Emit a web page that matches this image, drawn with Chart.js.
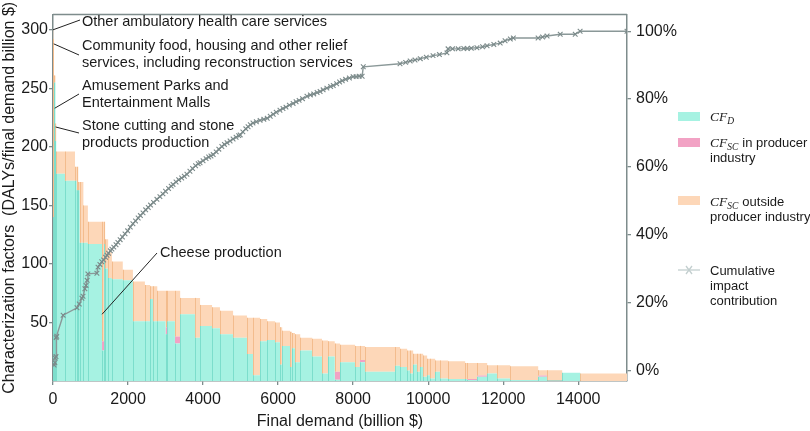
<!DOCTYPE html>
<html><head><meta charset="utf-8">
<script src="https://cdn.jsdelivr.net/npm/chart.js@4/dist/chart.umd.min.js"></script>
<style>html,body{margin:0;padding:0;background:#fff;}canvas{display:block}</style>
</head><body>
<canvas id="c" width="810" height="431"></canvas>
<script>
// ---- data ----
// final demand of each sector (billion $), sectors sorted by total characterization factor
const widths = [8,18,40,20,234,267,43,44,36,100,
 120,377,63,20,80,100,290,270,320,140,
 80,110,220,50,200,140,400,130,320,210,
 350,370,160,190,190,210,130,60,210,50,
 80,140,320,260,160,180,140,400,130,140,
 800,130,190,80,80,107,80,80,106,80,
 134,133,213,454,53,267,266,267,347,746,
 240,400,480,1247];
const cfD = [120,140,255,205,177,171,171,163,163,118,
 118,117,26,117,96,88,87,86,51,51,
 70,51,51,40,51,32,57,37,47,45,
 40,37,23,5,34,35,33,14,30,12,
 28,16,26,21,6.5,21,1,16,12,16,
 8,13,12,9,6.5,14,8,12,3.6,5,
 2.2,7.8,2.2,1.7,1.7,0.8,3.6,6.4,2.2,0.8,
 3.6,0.5,7,0];
const cfSCin = [0,0,0,0,0,0,0,0,0,0,
 0,0,8,0,0,0,0,0,0,0,
 0,0,0,6,0,6,0,0,0,0,
 0,0,0,0,0,0,0,0,0,0,
 0,0,0,0,0,0,7,0,0,2,
 0,0,0,0,0,0,0,0,0,0,
 0,0,0,0,0,1,1,0,0,0,
 1,0,0,0];
const cfSCout = [180,152,6,15,19,25,12,20,7,52,
 32,19,102,19,25,22,15,9,34,31,
 11,30,26,31,26,39,14,34,18,18,
 20,19,31,49,19,16,17,32,13,30,
 13,24,11,15,28,13,24,15,18,12,
 21,16,15.5,17,19.5,9.2,15.2,11.2,18.2,14,
 16.8,9.8,15.4,15.1,13.7,13.6,10.8,7,11.2,11.8,
 4.6,8.7,0,6.4];
// cumulative impact contribution (%), against cumulative final demand
const cumX = [30,50,60,80,85,100,270,640,700,770,
 800,850,880,910,930,1170,1200,1250,1300,1350,
 1400,1440,1480,1530,1570,1620,1680,1730,1790,1850,
 1920,1990,2060,2130,2200,2270,2330,2400,2470,2540,
 2600,2680,2770,2850,2930,3000,3080,3150,3200,3280,
 3350,3430,3500,3570,3650,3720,3800,3870,3920,4000,
 4080,4150,4210,4270,4350,4420,4500,4570,4640,4720,
 4800,4880,4950,4990,5060,5140,5200,5260,5330,5420,
 5520,5620,5710,5790,5870,5950,6050,6130,6210,6300,
 6400,6480,6560,6650,6770,6860,6950,7040,7120,7200,
 7300,7400,7470,7560,7640,7710,7800,7900,8000,8080,
 8160,8240,8270,9250,9400,9520,9650,9790,9950,10130,
 10300,10500,10530,10650,10800,10950,11040,11150,11300,11450,
 11570,11750,11920,12050,12190,12270,12930,13050,13170,13520,
 13920,14050,15300];
const cumY = [1.5,2.2,3.6,4.0,9.6,10.0,16.2,18.4,19.5,21.2,
 21.8,24.0,25.0,26.5,28.4,28.6,30.4,31.2,32.0,32.5,
 33.3,33.9,34.5,35.2,35.7,36.3,37.0,37.7,38.5,39.3,
 40.2,41.1,42.2,43.2,44.0,44.9,45.6,46.4,47.3,48.0,
 48.7,49.5,50.4,51.2,52.0,52.8,53.6,54.3,54.8,55.5,
 56.2,56.7,57.2,57.8,58.7,59.5,60.3,60.9,61.2,61.8,
 62.4,62.9,63.2,63.6,64.4,65.2,66.0,66.6,67.1,67.6,
 68.2,68.7,69.2,69.4,70.3,71.2,71.8,72.4,72.9,73.3,
 73.7,74.0,74.3,74.9,75.5,76.1,76.7,77.2,77.6,78.2,
 78.7,79.2,79.6,80.1,80.8,81.2,81.5,81.9,82.2,82.7,
 83.2,83.7,84.0,84.5,85.0,85.4,85.8,86.2,86.6,86.6,
 86.7,86.7,89.5,90.4,90.8,91.2,91.5,91.9,92.3,92.8,
 93.1,93.6,94.8,94.8,94.8,94.9,94.9,95.0,95.1,95.4,
 95.7,96.1,96.5,97.2,97.7,98.0,98.0,98.3,98.6,99.1,
 99.1,100,100];
const xTicks = [0,2000,4000,6000,8000,10000,12000,14000];
const leftTicks = [50,100,150,200,250,300];
const rightTicks = [0,20,40,60,80,100];
const notes = [
 {text:['Other ambulatory health care services'], at:[0,300]},
 {text:['Community food, housing and other relief','services, including reconstruction services'], at:[20,288]},
 {text:['Amusement Parks and','Entertainment Malls'], at:[45,233]},
 {text:['Stone cutting and stone','products production'], at:[70,217]},
 {text:['Cheese production'], at:[1307,57]}
];
// ---- layout / style ----
const noteLayout = [
 {tx:82, ty:22, lx:80, ly:20},
 {tx:82, ty:46, lx:79, ly:55},
 {tx:82, ty:86, lx:79, ly:94},
 {tx:82, ty:126, lx:79, ly:133},
 {tx:160, ty:253, lx:157, ly:253}
];
const AXIS = '#7e8c8c', TEAL = '#a6f2e2', PINK = '#f2a2c4', ORANGE = '#fdd7b8';
const SANS = "'Liberation Sans', Arial, sans-serif";
const SERIF = "'Liberation Serif', 'Times New Roman', serif";
const TXT = '#1a1a1a';

const starts = []; let acc = 0;
for (const w of widths) { starts.push(acc); acc += w; }
const xEnd = acc;
const lvl1 = cfD.slice();
const lvl2 = cfD.map((v,i)=>v+cfSCin[i]);
const lvl3 = lvl2.map((v,i)=>v+cfSCout[i]);
const steps = arr => starts.map((x,i)=>({x, y:arr[i]})).concat([{x:xEnd, y:arr[arr.length-1]}]);

function cfLabel(ctx, x, y, sub, rest) {
  ctx.textBaseline = 'middle'; ctx.textAlign = 'left';
  ctx.font = 'italic 13.5px ' + SERIF; ctx.fillText('CF', x, y);
  let w = ctx.measureText('CF').width;
  ctx.font = 'italic 9.5px ' + SERIF; ctx.fillText(sub, x + w, y + 4);
  w += ctx.measureText(sub).width;
  if (rest) { ctx.font = '13px ' + SANS; ctx.fillText(rest, x + w + 4, y); }
}

const deco = {
  id: 'deco',
  afterDatasetDraw(chart, args) {
    if (args.index !== 0) return;
    const ctx = chart.ctx, xs = chart.scales.x, ys = chart.scales.y;
    ctx.save(); ctx.lineWidth = 1;
    for (let i = 1; i < starts.length; i++) {
      const px = Math.round(xs.getPixelForValue(starts[i])) + 0.5;
      ctx.strokeStyle = 'rgba(90,205,185,0.55)';
      ctx.beginPath(); ctx.moveTo(px, ys.getPixelForValue(0)); ctx.lineTo(px, ys.getPixelForValue(lvl1[i])); ctx.stroke();
      if (cfSCout[i] > 0) {
        ctx.strokeStyle = 'rgba(235,165,105,0.55)';
        ctx.beginPath(); ctx.moveTo(px, ys.getPixelForValue(lvl2[i])); ctx.lineTo(px, ys.getPixelForValue(lvl3[i])); ctx.stroke();
      }
    }
    ctx.restore();
  },
  afterDraw(chart) {
    const ctx = chart.ctx, a = chart.chartArea, xs = chart.scales.x, ys = chart.scales.y;
    ctx.save();
    ctx.strokeStyle = AXIS; ctx.lineWidth = 1.5;
    ctx.beginPath(); ctx.moveTo(a.left, a.top); ctx.lineTo(a.right, a.top); ctx.stroke();
    ctx.fillStyle = TXT; ctx.strokeStyle = '#222'; ctx.lineWidth = 1;
    ctx.font = '14.5px ' + SANS; ctx.textBaseline = 'middle'; ctx.textAlign = 'left';
    notes.forEach((n, k) => {
      const L = noteLayout[k];
      const px = xs.getPixelForValue(n.at[0]), py = ys.getPixelForValue(n.at[1]);
      ctx.beginPath(); ctx.moveTo(px, py); ctx.lineTo(L.lx, L.ly); ctx.stroke();
      n.text.forEach((t, j) => ctx.fillText(t, L.tx, L.ty + j * 17));
    });
    const bx = 678, bw = 22, tx = 710;
    ctx.fillStyle = TEAL; ctx.fillRect(bx, 112, bw, 9);
    ctx.fillStyle = PINK; ctx.fillRect(bx, 138, bw, 9);
    ctx.fillStyle = ORANGE; ctx.fillRect(bx, 196, bw, 9);
    ctx.fillStyle = TXT;
    cfLabel(ctx, tx, 117, 'D', '');
    cfLabel(ctx, tx, 143, 'SC', 'in producer');
    ctx.font = '13px ' + SANS; ctx.fillText('industry', tx, 158);
    cfLabel(ctx, tx, 202, 'SC', 'outside');
    ctx.font = '13px ' + SANS; ctx.fillText('producer industry', tx, 217);
    ctx.strokeStyle = '#c3cfcf'; ctx.lineWidth = 1.3;
    ctx.beginPath(); ctx.moveTo(bx, 270); ctx.lineTo(bx + bw, 270); ctx.stroke();
    ctx.beginPath(); ctx.moveTo(bx + 8, 266); ctx.lineTo(bx + 14, 274); ctx.moveTo(bx + 14, 266); ctx.lineTo(bx + 8, 274); ctx.stroke();
    ctx.fillStyle = TXT; ctx.font = '13px ' + SANS;
    ctx.fillText('Cumulative', tx, 271); ctx.fillText('impact', tx, 286); ctx.fillText('contribution', tx, 301);
    ctx.restore();
  }
};

const tickFont = {family: SANS, size: 16};
new Chart(document.getElementById('c'), {
  type: 'line',
  data: { datasets: [
    {label:'CF_D', data: steps(lvl1), stepped: true, fill: 'origin', backgroundColor: TEAL, borderColor: 'transparent', borderWidth: 0, pointRadius: 0, yAxisID: 'y', order: 1},
    {label:'CF_SC in producer industry', data: steps(lvl2), stepped: true, fill: '-1', backgroundColor: PINK, borderColor: 'transparent', borderWidth: 0, pointRadius: 0, yAxisID: 'y', order: 1},
    {label:'CF_SC outside producer industry', data: steps(lvl3), stepped: true, fill: '-1', backgroundColor: ORANGE, borderColor: 'transparent', borderWidth: 0, pointRadius: 0, yAxisID: 'y', order: 1},
    {label:'Cumulative impact contribution', data: cumX.map((x,i)=>({x, y: cumY[i]})), yAxisID: 'y2', fill: false,
     borderColor: '#8a9898', borderWidth: 1.4, pointStyle: 'crossRot', pointRadius: 3.3, pointBorderColor: '#7b8a8a',
     pointBorderWidth: 1.1, pointBackgroundColor: 'rgba(0,0,0,0)', order: 0}
  ]},
  options: {
    responsive: false, animation: false, devicePixelRatio: 1,
    layout: {padding: {top: 8, left: 0, right: 0, bottom: 0}},
    plugins: {legend: {display: false}, tooltip: {enabled: false}},
    scales: {
      x: {type: 'linear', min: 0, max: xEnd, position: 'bottom',
        afterBuildTicks: s => { s.ticks = xTicks.map(v => ({value: v})); },
        afterFit: s => { s.height = 50; },
        grid: {drawOnChartArea: false, tickLength: 4, color: AXIS, lineWidth: 1.3},
        border: {display: true, color: AXIS, width: 1.5},
        ticks: {font: tickFont, color: TXT, padding: 5, maxRotation: 0, autoSkip: false, callback: v => String(v)},
        title: {display: true, text: 'Final demand (billion $)', font: {family: SANS, size: 16}, color: TXT, padding: 0}},
      y: {type: 'linear', min: 0, max: 313, position: 'left',
        afterBuildTicks: s => { s.ticks = leftTicks.map(v => ({value: v})); },
        afterFit: s => { s.width = 53; },
        grid: {drawOnChartArea: false, tickLength: 4, color: AXIS, lineWidth: 1.3},
        border: {display: true, color: AXIS, width: 1.5},
        ticks: {font: tickFont, color: TXT, padding: 1, callback: v => String(v)},
        title: {display: true, text: 'Characterization factors  (DALYs/final demand billion $)', font: {family: SANS, size: 16}, color: TXT, padding: 0}},
      y2: {type: 'linear', min: -3.2, max: 104.9, position: 'right',
        afterBuildTicks: s => { s.ticks = rightTicks.map(v => ({value: v})); },
        afterFit: s => { s.width = 183; },
        grid: {drawOnChartArea: false, tickLength: 4, color: AXIS, lineWidth: 1.3},
        border: {display: true, color: AXIS, width: 1.5},
        ticks: {font: tickFont, color: TXT, padding: 5, callback: v => v + '%'}}
    }
  },
  plugins: [deco]
});
</script>
</body></html>
